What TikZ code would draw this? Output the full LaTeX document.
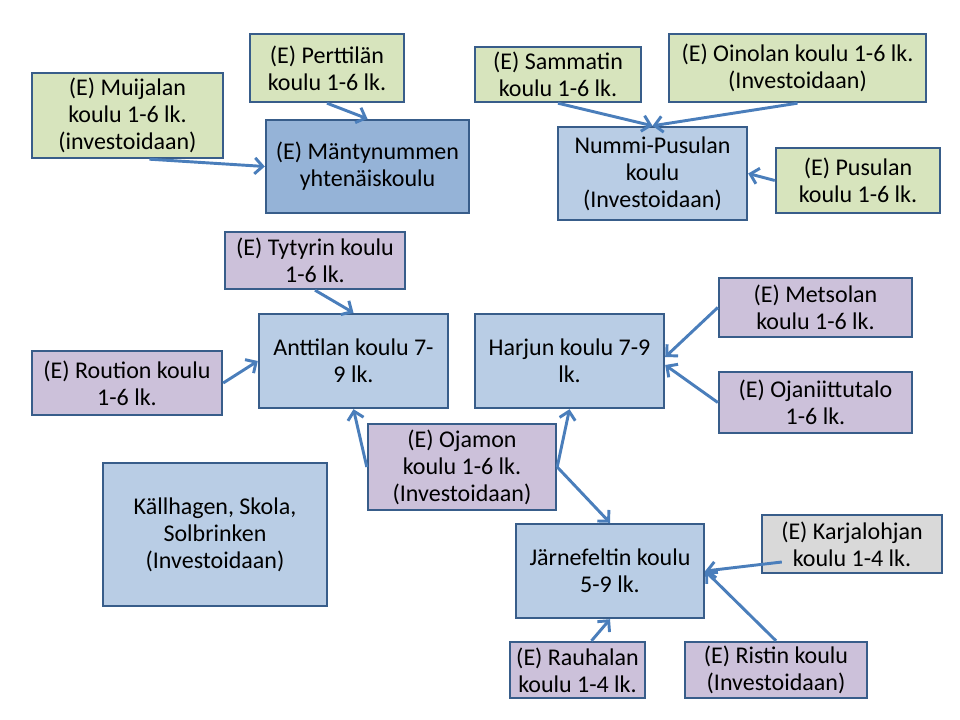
\documentclass[tikz,border=0pt]{standalone}
\usepackage{fontspec}
\setmainfont{Carlito}
\usetikzlibrary{arrows.meta,calc}

\definecolor{grn}{HTML}{D7E4BD}
\definecolor{vio}{HTML}{CCC1DA}
\definecolor{lblue}{HTML}{B9CDE5}
\definecolor{dblue}{HTML}{95B3D7}
\definecolor{gry}{HTML}{D9D9D9}
\definecolor{edge}{HTML}{385D8A}
\definecolor{arrowblue}{HTML}{4A7EBB}

\tikzset{
  box/.style={draw=edge,line width=1.8pt,align=center,inner sep=2pt,
    font=\fontsize{18}{20.25}\selectfont},
  boxsize/.style 2 args={minimum width=#1*0.75pt,minimum height=#2*0.75pt},
  arr/.style={draw=arrowblue,line width=2.2pt,
    -{Straight Barb[length=6pt,width=12pt,line width=2.2pt]}}
}

\begin{document}
\begin{tikzpicture}[x=0.75pt,y=-0.75pt]

\useasboundingbox (0,0) rectangle (960,720);

% Vihreat
\node[box,fill=grn,boxsize={191}{85}] (mui) at (127.5,115.5)
  {(E) Muijalan\\koulu 1-6 lk.\\(investoidaan)};
\node[box,fill=grn,boxsize={154}{68}] (per) at (327,68)
  {(E) Perttilän\\koulu 1-6 lk.};
\node[box,fill=grn,boxsize={166}{55}] (sam) at (558,74.5)
  {(E) Sammatin\\koulu 1-6 lk.};
\node[box,fill=grn,boxsize={257}{68}] (oin) at (797.5,68)
  {(E) Oinolan koulu 1-6 lk.\\(Investoidaan)};
\node[box,fill=grn,boxsize={164}{65}] (pus) at (858,180.5)
  {(E) Pusulan\\koulu 1-6 lk.};

% Siniset
\node[box,fill=dblue,boxsize={203}{93}] (man) at (367.5,166.5)
  {(E) Mäntynummen\\yhtenäiskoulu};
\node[box,fill=lblue,boxsize={189}{93}] (nup) at (652.5,173.5)
  {Nummi-Pusulan\\koulu\\(Investoidaan)};
\node[box,fill=lblue,boxsize={189}{94}] (ant) at (353.5,361)
  {Anttilan koulu 7-\\9 lk.};
\node[box,fill=lblue,boxsize={189}{94}] (har) at (569.5,361)
  {Harjun koulu 7-9\\lk.};
\node[box,fill=lblue,boxsize={224}{143}] (kal) at (215,534.5)
  {Källhagen, Skola,\\Solbrinken\\(Investoidaan)};
\node[box,fill=lblue,boxsize={188}{94}] (jar) at (610,571)
  {Järnefeltin koulu\\5-9 lk.};

% Violetit
\node[box,fill=vio,boxsize={180}{57}] (tyt) at (315,260.5)
  {(E) Tytyrin koulu\\1-6 lk.};
\node[box,fill=vio,boxsize={193}{59}] (met) at (815.5,307.5)
  {(E) Metsolan\\koulu 1-6 lk.};
\node[box,fill=vio,boxsize={193}{61}] (oja) at (815.5,402.5)
  {(E) Ojaniittutalo\\1-6 lk.};
\node[box,fill=vio,boxsize={190}{64}] (rou) at (127,383)
  {(E) Roution koulu\\1-6 lk.};
\node[box,fill=vio,boxsize={188}{86}] (ojm) at (462,467)
  {(E) Ojamon\\koulu 1-6 lk.\\(Investoidaan)};
\node[box,fill=vio,boxsize={135}{56}] (rau) at (577.5,670)
  {(E) Rauhalan\\koulu 1-4 lk.};
\node[box,fill=vio,boxsize={182}{56}] (ris) at (776,670)
  {(E) Ristin koulu\\(Investoidaan)};

% Harmaa
\node[box,fill=gry,boxsize={180}{58}] (kar) at (852,544)
  {(E) Karjalohjan\\koulu 1-4 lk.};

% Nuolet
\draw[arr] ($(mui.south)+(22,0)$) -- (man.west);
\draw[arr] (per.south) -- (man.north);
\draw[arr] (sam.south) -- (nup.north);
\draw[arr] (oin.south) -- (nup.north);
\draw[arr] (pus.west) -- (nup.east);
\draw[arr] (tyt.south) -- (ant.north);
\draw[arr] (rou.east) -- (ant.west);
\draw[arr] (ojm.west) -- (ant.south);
\draw[arr] (ojm.east) -- (har.south);
\draw[arr] (ojm.east) -- (jar.north);
\draw[arr] (met.west) -- ($(har.east)+(0,-4)$);
\draw[arr] (oja.west) -- ($(har.east)+(0,4)$);
\draw[arr] ($(kar.west)+(21,18)$) -- (jar.east);
\draw[arr] ($(rau.north)+(14,0)$) -- (jar.south);
\draw[arr] (ris.north) -- (jar.east);

\end{tikzpicture}
\end{document}
